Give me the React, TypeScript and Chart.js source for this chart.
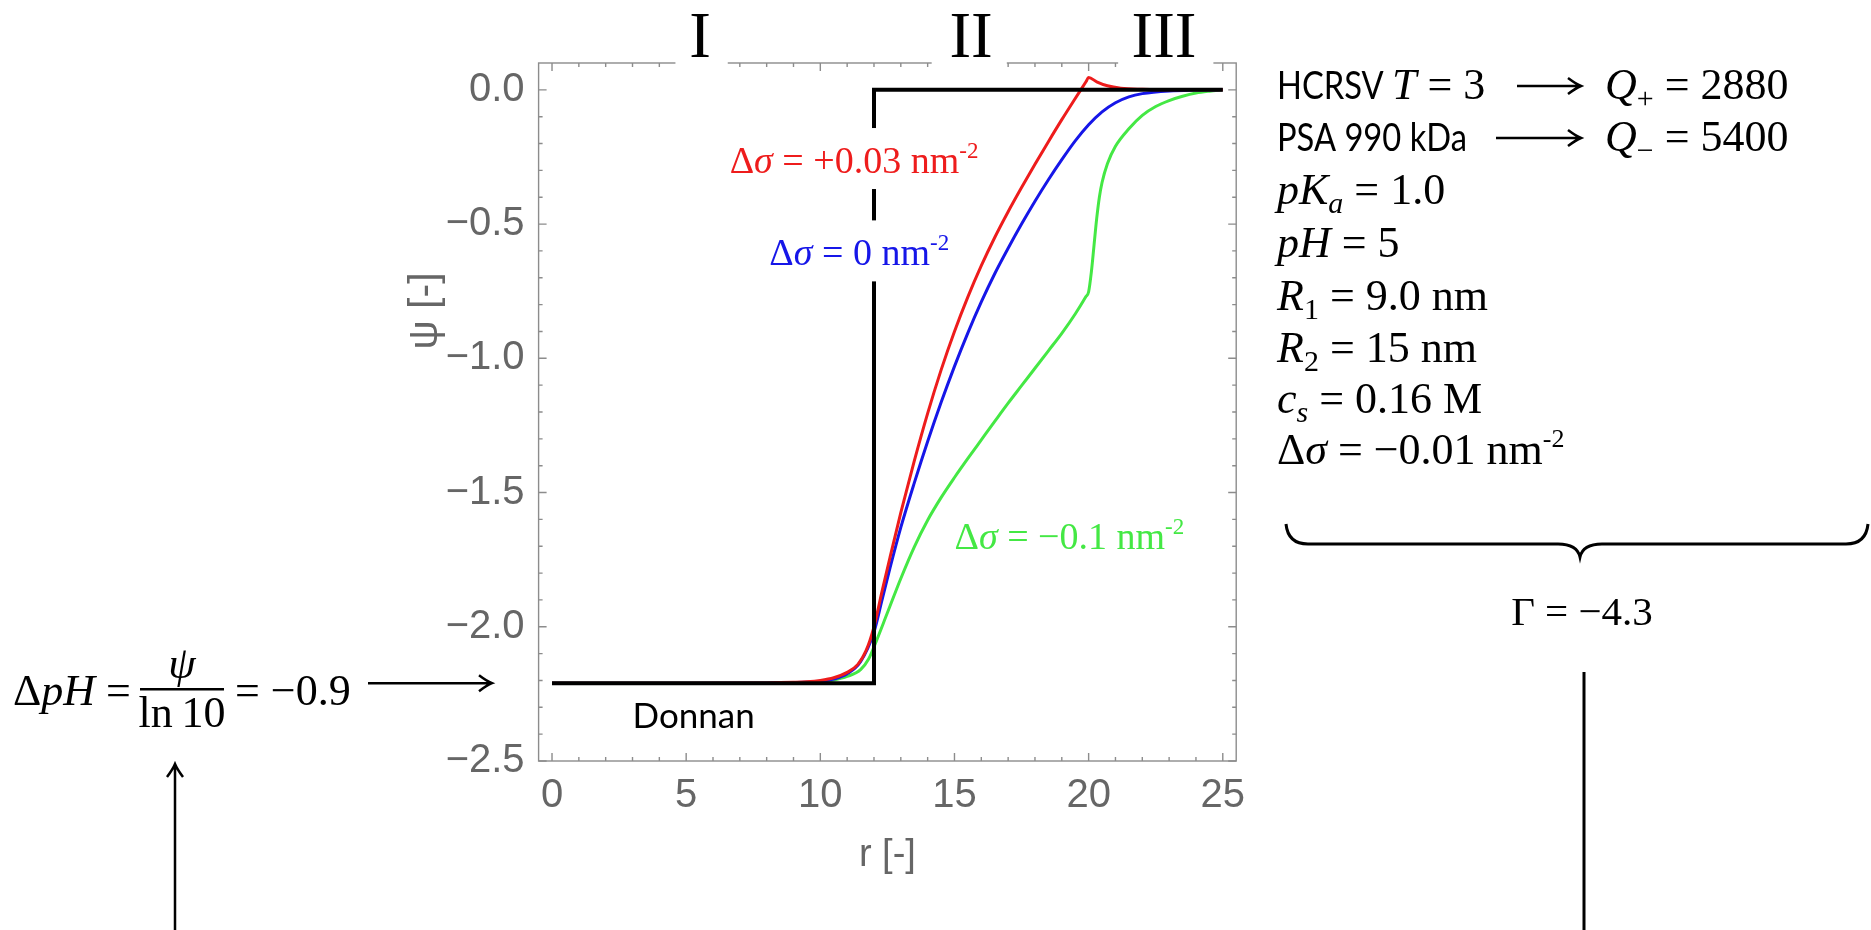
import React, { useEffect, useRef } from "react";
import { Chart, registerables } from "chart.js";

Chart.register(...registerables);

// ---------------- data ----------------
const donnanR: number[] = [0, 12, 12, 25];
const donnanPsi: number[] = [-2.21, -2.21, 0, 0];

const redR: number[] = [0, 5, 8, 9, 9.5, 10, 10.5, 11, 11.4, 11.7, 12, 12.3, 12.6, 13, 13.5, 14, 14.5, 15, 15.5, 16, 16.5, 17, 17.5, 18, 18.5, 19, 19.5, 19.9, 20, 20.3, 20.7, 21.2, 22, 23, 25];
const redPsi: number[] = [-2.21, -2.21, -2.209, -2.207, -2.205, -2.2, -2.19, -2.17, -2.14, -2.09, -2.0, -1.868, -1.74, -1.575, -1.383, -1.205, -1.044, -0.9, -0.771, -0.655, -0.55, -0.454, -0.364, -0.277, -0.193, -0.111, -0.032, 0.03, 0.046, 0.03, 0.015, 0.006, 0.002, 0.0, 0.0];

const blueR: number[] = [0, 5, 8, 9, 10, 10.5, 11, 11.5, 12, 12.3, 12.6, 13, 13.5, 14, 14.5, 15, 15.5, 16, 16.5, 17, 17.5, 18, 18.5, 19, 19.5, 20, 20.5, 21, 21.5, 22, 23, 24, 25];
const bluePsi: number[] = [-2.21, -2.21, -2.209, -2.208, -2.203, -2.195, -2.175, -2.13, -2.02, -1.9, -1.78, -1.63, -1.465, -1.31, -1.165, -1.03, -0.905, -0.79, -0.685, -0.59, -0.5, -0.415, -0.335, -0.26, -0.19, -0.13, -0.082, -0.048, -0.026, -0.014, -0.004, -0.001, 0];

const greenR: number[] = [0, 5, 8, 9, 10, 10.5, 11, 11.5, 11.8, 12, 12.5, 13, 13.5, 14, 14.5, 15, 15.5, 16, 16.5, 17, 17.5, 18, 18.5, 19, 19.5, 19.9, 20, 20.1, 20.2, 20.3, 20.4, 20.5, 20.7, 21, 21.5, 22, 22.5, 23, 23.5, 24, 24.5, 25];
const greenPsi: number[] = [-2.21, -2.21, -2.209, -2.208, -2.205, -2.198, -2.185, -2.16, -2.12, -2.075, -1.948, -1.82, -1.703, -1.603, -1.519, -1.444, -1.373, -1.304, -1.235, -1.167, -1.102, -1.037, -0.972, -0.907, -0.835, -0.77, -0.752, -0.68, -0.58, -0.48, -0.4, -0.345, -0.275, -0.21, -0.145, -0.095, -0.062, -0.04, -0.024, -0.012, -0.005, 0];

const xTickValues: number[] = [0, 5, 10, 15, 20, 25];
const xTickLabels: string[] = ["0", "5", "10", "15", "20", "25"];
const yTickValues: number[] = [-2.5, -2, -1.5, -1, -0.5, 0];
const yTickLabels: string[] = ["−2.5", "−2.0", "−1.5", "−1.0", "−0.5", "0.0"];

const regionLabels: string[] = ["I", "II", "III"];
const sigmaLabels: string[] = ["+0.03", "0", "−0.1"];

// ---------------- styles / annotation placement ----------------
const RED = "#ee1c1c";
const BLUE = "#1616e8";
const GREEN = "#44e844";
const FRAME = "#8c8c8c";
const AXIS_TEXT = "#666666";
const SERIF = '"Liberation Serif", "Times New Roman", serif';
const SANS = 'Lato, "Liberation Sans", sans-serif';
const AXIS_FONT = '"Liberation Sans", Arial, sans-serif';

const regionLabelX = [5.52, 15.62, 22.81];
const regionGaps: [number, number][] = [[4.6, 6.55], [14.15, 16.95], [21.1, 24.65]];
const curveLabelPos = [
  { x: 6.62, y: -0.254, color: RED, box: true },
  { x: 8.1, y: -0.598, color: BLUE, box: true },
  { x: 15.0, y: -1.655, color: GREEN, box: false },
];

type Seg = { t: string; f: string; dy?: number; sx?: number };

function measureRich(ctx: CanvasRenderingContext2D, segs: Seg[]) {
  let w = 0;
  for (const s of segs) {
    ctx.font = s.f;
    w += ctx.measureText(s.t).width * (s.sx || 1);
  }
  return w;
}

function drawRich(ctx: CanvasRenderingContext2D, segs: Seg[], x: number, y: number, align: "left" | "center" = "left") {
  const w = measureRich(ctx, segs);
  let cx = align === "left" ? x : x - w / 2;
  ctx.textAlign = "left";
  ctx.textBaseline = "alphabetic";
  for (const s of segs) {
    ctx.font = s.f;
    const sx = s.sx || 1;
    ctx.save();
    ctx.translate(cx, y + (s.dy || 0));
    ctx.scale(sx, 1);
    ctx.fillText(s.t, 0, 0);
    ctx.restore();
    cx += ctx.measureText(s.t).width * sx;
  }
  return cx;
}

function arrowRight(ctx: CanvasRenderingContext2D, x0: number, x1: number, y: number) {
  ctx.beginPath();
  ctx.moveTo(x0, y);
  ctx.lineTo(x1, y);
  ctx.moveTo(x1 - 13, y - 8);
  ctx.quadraticCurveTo(x1 - 5, y - 2, x1, y);
  ctx.quadraticCurveTo(x1 - 5, y + 2, x1 - 13, y + 8);
  ctx.stroke();
}

const m = (px: number) => `${px}px ${SERIF}`;
const mi = (px: number) => `italic ${px}px ${SERIF}`;
const sans = (px: number) => `${px}px ${SANS}`;

const annotPlugin = {
  id: "annot",
  beforeDatasetsDraw(chart: any) {
    const { ctx, chartArea: a, scales } = chart;
    const x = scales.x;
    const y = scales.y;
    ctx.save();
    ctx.strokeStyle = FRAME;
    ctx.lineWidth = 1.4;
    ctx.strokeRect(a.left, a.top, a.right - a.left, a.bottom - a.top);
    ctx.beginPath();
    for (let v = 0; v <= 25; v++) {
      const px = x.getPixelForValue(v);
      const len = v % 5 === 0 ? 8 : 4;
      ctx.moveTo(px, a.bottom);
      ctx.lineTo(px, a.bottom - len);
      ctx.moveTo(px, a.top);
      ctx.lineTo(px, a.top + len);
    }
    for (let k = 0; k <= 25; k++) {
      const py = y.getPixelForValue(-2.5 + k * 0.1);
      const len = k % 5 === 0 ? 8 : 4;
      ctx.moveTo(a.left, py);
      ctx.lineTo(a.left + len, py);
      ctx.moveTo(a.right, py);
      ctx.lineTo(a.right - len, py);
    }
    ctx.stroke();
    ctx.restore();
  },
  afterDraw(chart: any) {
    const { ctx, chartArea: a, scales } = chart;
    const x = scales.x;
    const y = scales.y;
    ctx.save();

    // region labels I, II, III over gaps in the top frame
    ctx.fillStyle = "#fff";
    regionGaps.forEach(([g0, g1]) => {
      const l = x.getPixelForValue(g0);
      const r = x.getPixelForValue(g1);
      ctx.fillRect(l, 0, r - l, a.top + 10);
    });
    ctx.fillStyle = "#000";
    ctx.font = m(65);
    ctx.textAlign = "center";
    ctx.textBaseline = "alphabetic";
    regionLabels.forEach((t, i) => ctx.fillText(t, x.getPixelForValue(regionLabelX[i]), 57));

    // curve labels
    curveLabelPos.forEach((p, i) => {
      const segs: Seg[] = [
        { t: "Δ", f: m(38) },
        { t: "σ", f: mi(38) },
        { t: ` = ${sigmaLabels[i]} nm`, f: m(38) },
        { t: "-2", f: m(23), dy: -15 },
      ];
      const w = measureRich(ctx, segs);
      const px = x.getPixelForValue(p.x);
      const cy = y.getPixelForValue(p.y);
      if (p.box) {
        ctx.fillStyle = "#fff";
        ctx.fillRect(px - 3, cy - 30, w + 6, 61);
      }
      ctx.fillStyle = p.color;
      drawRich(ctx, segs, px, cy + 15);
    });

    // Donnan
    ctx.fillStyle = "#000";
    ctx.font = sans(35);
    ctx.textAlign = "left";
    ctx.fillText("Donnan", x.getPixelForValue(3.0), y.getPixelForValue(-2.33) + 12.5);

    // y-axis title
    ctx.save();
    ctx.translate(426, 311);
    ctx.rotate(-Math.PI / 2);
    ctx.fillStyle = AXIS_TEXT;
    ctx.font = `41px ${AXIS_FONT}`;
    ctx.textAlign = "center";
    ctx.textBaseline = "middle";
    ctx.fillText("ψ [-]", 0, 0);
    ctx.restore();

    // right parameter block
    ctx.fillStyle = "#000";
    ctx.strokeStyle = "#000";
    ctx.lineWidth = 2.5;
    const RX = 1277;
    const rows = [99, 151, 204, 257, 310, 362, 413, 464];
    const QX = 1605;
    const AX1 = 1581;
    drawRich(ctx, [{ t: "HCRSV ", f: sans(38), sx: 0.86 }, { t: "T", f: mi(44) }, { t: " = 3", f: m(44) }], RX, rows[0]);
    arrowRight(ctx, 1517, AX1, rows[0] - 13);
    drawRich(ctx, [{ t: "Q", f: mi(44) }, { t: "+", f: m(30), dy: 9 }, { t: " = 2880", f: m(44) }], QX, rows[0]);
    drawRich(ctx, [{ t: "PSA 990 kDa", f: sans(38), sx: 0.86 }], RX, rows[1]);
    arrowRight(ctx, 1496, AX1, rows[1] - 13);
    drawRich(ctx, [{ t: "Q", f: mi(44) }, { t: "−", f: m(30), dy: 9 }, { t: " = 5400", f: m(44) }], QX, rows[1]);
    drawRich(ctx, [{ t: "pK", f: mi(44) }, { t: "a", f: mi(30), dy: 9 }, { t: " = 1.0", f: m(44) }], RX, rows[2]);
    drawRich(ctx, [{ t: "pH", f: mi(44) }, { t: " = 5", f: m(44) }], RX, rows[3]);
    drawRich(ctx, [{ t: "R", f: mi(44) }, { t: "1", f: m(30), dy: 9 }, { t: " = 9.0 nm", f: m(44) }], RX, rows[4]);
    drawRich(ctx, [{ t: "R", f: mi(44) }, { t: "2", f: m(30), dy: 9 }, { t: " = 15 nm", f: m(44) }], RX, rows[5]);
    drawRich(ctx, [{ t: "c", f: mi(44) }, { t: "s", f: mi(30), dy: 9 }, { t: " = 0.16 M", f: m(44) }], RX, rows[6]);
    drawRich(ctx, [{ t: "Δ", f: m(44) }, { t: "σ", f: mi(44) }, { t: " = −0.01 nm", f: m(44) }, { t: "-2", f: m(26), dy: -17 }], RX, rows[7]);

    // curly brace
    const bx0 = 1286, bx1 = 1868, bxc = 1580, byT = 524, byM = 544, byB = 557, r = 22;
    ctx.lineWidth = 3;
    ctx.beginPath();
    ctx.moveTo(bx0, byT);
    ctx.quadraticCurveTo(bx0 + 2, byM, bx0 + r, byM);
    ctx.lineTo(bxc - r, byM);
    ctx.quadraticCurveTo(bxc - 3, byM, bxc, byB);
    ctx.quadraticCurveTo(bxc + 3, byM, bxc + r, byM);
    ctx.lineTo(bx1 - r, byM);
    ctx.quadraticCurveTo(bx1 - 2, byM, bx1, byT);
    ctx.stroke();

    // Gamma
    drawRich(ctx, [{ t: "Γ = −4.3", f: m(41) }], 1582, 625, "center");

    // vertical line at right
    ctx.beginPath();
    ctx.moveTo(1584, 672);
    ctx.lineTo(1584, 930);
    ctx.stroke();

    // left block: ΔpH = ψ / ln 10 = −0.9 →
    const lb = 705;
    drawRich(ctx, [{ t: "Δ", f: m(44) }, { t: "pH", f: mi(44) }, { t: " = ", f: m(44) }], 13, lb);
    const fracC = 182;
    drawRich(ctx, [{ t: "ψ", f: mi(44) }], fracC, 678, "center");
    drawRich(ctx, [{ t: "ln", f: m(44) }, { t: "\u2009", f: m(44) }, { t: "10", f: m(44) }], fracC, 727, "center");
    ctx.fillRect(140, 688, 84, 2.5);
    drawRich(ctx, [{ t: " = −0.9", f: m(44) }], 224, lb);
    ctx.lineWidth = 2.5;
    arrowRight(ctx, 368, 492, y.getPixelForValue(-2.21));

    // up arrow bottom-left
    ctx.beginPath();
    ctx.moveTo(175, 930);
    ctx.lineTo(175, 764);
    ctx.moveTo(167, 777);
    ctx.quadraticCurveTo(173, 769, 175, 764);
    ctx.quadraticCurveTo(177, 769, 183, 777);
    ctx.stroke();

    ctx.restore();
  },
};

const toPoints = (xs: number[], ys: number[]) => xs.map((v, i) => ({ x: v, y: ys[i] }));

export default function App() {
  const ref = useRef<HTMLCanvasElement>(null);
  useEffect(() => {
    document.body.style.margin = "0";
    const canvas = ref.current;
    if (!canvas) return;
    const lineDs = (label: string, xs: number[], ys: number[], color: string, width: number, smooth: boolean) => ({
      label,
      data: toPoints(xs, ys),
      borderColor: color,
      backgroundColor: color,
      borderWidth: width,
      pointRadius: 0,
      tension: 0,
      cubicInterpolationMode: smooth ? ("monotone" as const) : ("default" as const),
      fill: false,
      borderCapStyle: "butt" as const,
      borderJoinStyle: "miter" as const,
    });
    const chart = new Chart(canvas, {
      type: "line",
      data: {
        datasets: [
          lineDs("Donnan", donnanR, donnanPsi, "#000", 4, false),
          lineDs("Δσ = +0.03", redR, redPsi, RED, 3, true),
          lineDs("Δσ = 0", blueR, bluePsi, BLUE, 3, true),
          lineDs("Δσ = −0.1", greenR, greenPsi, GREEN, 3, true),
        ],
      },
      options: {
        animation: false,
        responsive: false,
        maintainAspectRatio: false,
        devicePixelRatio: 1,
        layout: { padding: { left: 0, right: 634.8, top: 63, bottom: 48 } },
        plugins: { legend: { display: false }, tooltip: { enabled: false } },
        scales: {
          x: {
            type: "linear",
            min: -0.5,
            max: 25.5,
            afterBuildTicks: (s: any) => {
              s.ticks = xTickValues.map((v) => ({ value: v }));
            },
            afterFit: (s: any) => {
              s.height = 121;
            },
            ticks: {
              autoSkip: false,
              maxRotation: 0,
              padding: 3,
              color: AXIS_TEXT,
              font: { family: AXIS_FONT, size: 40 },
              callback: (v: any) => {
                const i = xTickValues.indexOf(Number(v));
                return i >= 0 ? xTickLabels[i] : "";
              },
            },
            grid: { display: false },
            border: { display: false },
            title: { display: true, text: "r [-]", color: AXIS_TEXT, font: { family: AXIS_FONT, size: 38 }, padding: { top: 4, bottom: 4 } },
          },
          y: {
            type: "linear",
            min: -2.5,
            max: 0.1,
            afterBuildTicks: (s: any) => {
              s.ticks = yTickValues.map((v) => ({ value: v }));
            },
            afterFit: (s: any) => {
              s.width = 538.6;
            },
            ticks: {
              autoSkip: false,
              padding: 6,
              color: AXIS_TEXT,
              font: { family: AXIS_FONT, size: 40 },
              callback: (v: any) => {
                const i = yTickValues.findIndex((t) => Math.abs(t - Number(v)) < 1e-9);
                return i >= 0 ? yTickLabels[i] : "";
              },
            },
            grid: { display: false },
            border: { display: false },
          },
        },
      },
      plugins: [annotPlugin],
    } as any);
    return () => chart.destroy();
  }, []);
  return (
    <div style={{ position: "fixed", left: 0, top: 0, width: 1871, height: 930, background: "#fff" }}>
      <canvas ref={ref} width={1871} height={930} style={{ display: "block", width: 1871, height: 930 }} />
    </div>
  );
}
